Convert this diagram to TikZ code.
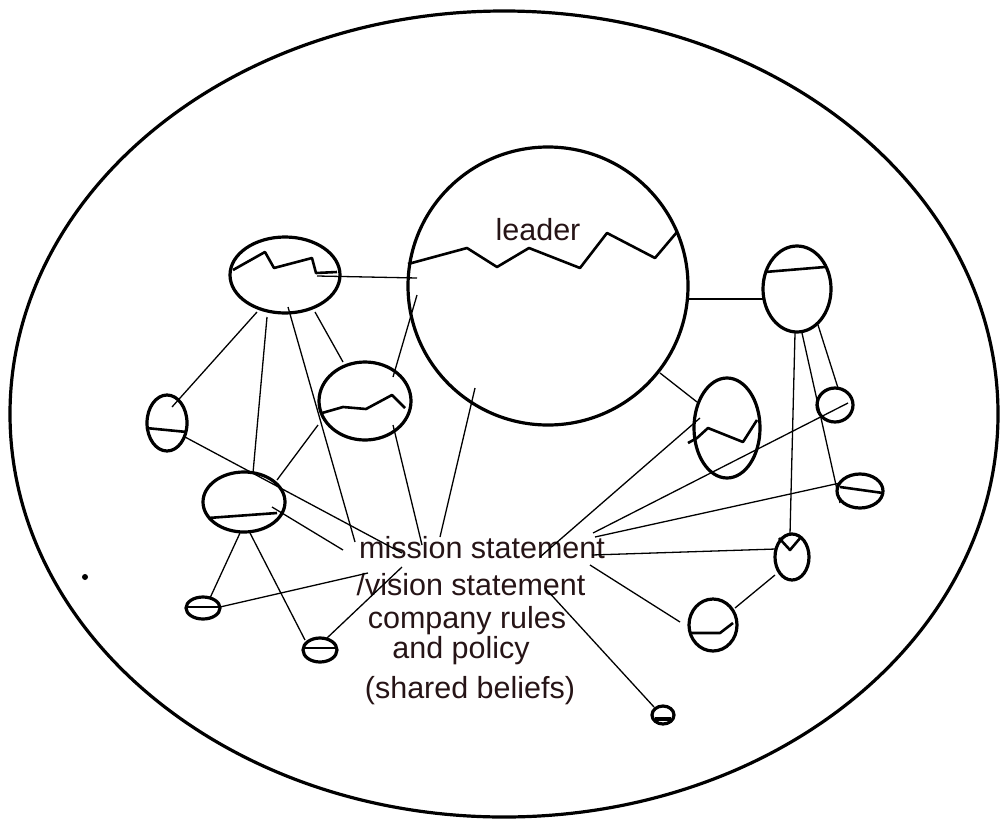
\documentclass[tikz,border=0pt]{standalone}
\usepackage{fontspec}
\setmainfont{Liberation Sans}
\usetikzlibrary{shapes.geometric,calc}
\definecolor{txt}{RGB}{38,20,22}
\begin{document}
\begin{tikzpicture}[x=1pt,y=-1pt,
  ell/.style={draw, ellipse, line width=3.2pt, inner sep=0pt, outer sep=0pt},
  conn/.style={line width=1.3pt},
  zig/.style={line width=2.6pt, line join=round},
  lbl/.style={text=txt, font=\fontsize{30.5}{35}\selectfont, anchor=base, inner sep=0pt}]
\useasboundingbox (0,0) rectangle (1000,819);

% outer boundary
\node[ell, minimum width=988pt, minimum height=806pt] (outer) at (504,414) {};

% nodes
\node[ell, minimum width=280pt, minimum height=278pt] (L0) at (548,286) {};
\node[ell, minimum width=110pt, minimum height=76pt] (A) at (285,275) {};
\node[ell, minimum width=92pt, minimum height=78pt] (B) at (365,401) {};
\node[ell, minimum width=40pt, minimum height=56pt] (C) at (167,423) {};
\node[ell, minimum width=82pt, minimum height=60pt] (D) at (244,502) {};
\node[ell, minimum width=34pt, minimum height=22pt] (E) at (203,608) {};
\node[ell, minimum width=34pt, minimum height=24pt] (F) at (320,650) {};
\node[ell, minimum width=68pt, minimum height=86pt] (G) at (797,289) {};
\node[ell, minimum width=66pt, minimum height=100pt] (H) at (727,428) {};
\node[ell, minimum width=36pt, minimum height=34pt] (I) at (835,405) {};
\node[ell, minimum width=46pt, minimum height=34pt] (J) at (860,491) {};
\node[ell, minimum width=34pt, minimum height=46pt] (K) at (792,557) {};
\node[ell, minimum width=48pt, minimum height=52pt] (L) at (713,625) {};
\node[ell, minimum width=22pt, minimum height=18pt] (M) at (663,715) {};

% texts
\node[lbl] (lead) at (538,240) {leader};
\node[lbl] (m1) at (482,558) {mission statement};
\node[lbl] (m2) at (471,595) {/vision statement};
\node[lbl] (m3) at (467,628) {company rules};
\node[lbl] (m4) at (461,658) {and policy};
\node[lbl] (m5) at (470,698) {(shared beliefs)};

% text-side ends of connectors
\coordinate (tA) at (355,542);
\coordinate (tL0) at (440,537);
\coordinate (tB) at (422,545);
\coordinate (tC) at (402,553);
\coordinate (tD) at (343,550);
\coordinate (tE) at (368,573);
\coordinate (tF) at (402,567);
\coordinate (tH) at (540,557);
\coordinate (tI) at (593,533);
\coordinate (tJ) at (595,537);
\coordinate (tK) at (592,555);
\coordinate (tL) at (590,565);
\coordinate (tM) at (545,588);

% inner marks
\begin{scope}[shift={(L0)}]
\draw[zig] (-140,-22) -- (-81,-38) -- (-51,-19) -- (-19,-38) -- (32,-18) -- (59,-53) -- (107,-28) -- (129,-54);
\end{scope}
\begin{scope}[shift={(A)}]
\draw[zig] (-52,-5) -- (-20,-23) -- (-11,-7) -- (27,-17) -- (31,-2) -- (52,-3);
\end{scope}
\begin{scope}[shift={(B)}]
\draw[zig] (-43,12) -- (-22,6) -- (1,8) -- (27,-6) -- (40,7);
\end{scope}
\begin{scope}[shift={(C)}]
\draw[zig] (-21,5) -- (20,9);
\end{scope}
\begin{scope}[shift={(D)}]
\draw[zig] (-36,16) -- (33,11);
\end{scope}
\begin{scope}[shift={(E)}]
\draw[zig] (-15,-1) -- (15,-1);
\end{scope}
\begin{scope}[shift={(F)}]
\draw[zig] (-15,-2) -- (15,-2);
\end{scope}
\begin{scope}[shift={(G)}]
\draw[zig] (-32,-17) -- (28,-22);
\end{scope}
\begin{scope}[shift={(H)}]
\draw[zig] (-39,15) -- (-30,10) -- (-19,0) -- (16,14) -- (30,-8);
\end{scope}
\begin{scope}[shift={(J)}]
\draw[zig] (-20,-4) -- (23,2);
\end{scope}
\begin{scope}[shift={(K)}]
\draw[zig] (-13,-19) -- (-2,-7) -- (9,-20);
\end{scope}
\begin{scope}[shift={(L)}]
\draw[zig] (-23,8) -- (7,8) -- (20,-2);
\end{scope}
\begin{scope}[shift={(M)}]
\draw[zig, line width=3.2pt] (-8,4) -- (8,4);
\end{scope}

% connectors
\draw[conn] ($(A)+(32,1)$) -- ($(L0)+(-131,-8)$);
\draw[conn] ($(A)+(-28,37)$) -- ($(C)+(5,-16)$);
\draw[conn] ($(A)+(-18,42)$) -- ($(D)+(9,-29)$);
\draw[conn] ($(A)+(3,32)$) -- (tA);
\draw[conn] ($(A)+(30,37)$) -- ($(B)+(-22,-39)$);
\draw[conn] ($(L0)+(-131,9)$) -- ($(B)+(28,-24)$);
\draw[conn] ($(L0)+(-73,102)$) -- (tL0);
\draw[conn] ($(L0)+(140,13)$) -- ($(G)+(-34,10)$);
\draw[conn] ($(L0)+(112,87)$) -- ($(H)+(-30,-26)$);
\draw[conn] ($(B)+(-47,24)$) -- ($(D)+(33,-22)$);
\draw[conn] ($(B)+(28,24)$) -- (tB);
\draw[conn] ($(C)+(18,14)$) -- (tC);
\draw[conn] ($(D)+(28,5)$) -- (tD);
\draw[conn] ($(D)+(-4,31)$) -- ($(E)+(7,-10)$);
\draw[conn] ($(D)+(6,31)$) -- ($(F)+(-15,-10)$);
\draw[conn] ($(E)+(17,-1)$) -- (tE);
\draw[conn] ($(F)+(7,-12)$) -- (tF);
\draw[conn] ($(G)+(21,36)$) -- ($(I)+(3,-17)$);
\draw[conn] ($(G)+(5,44)$) -- ($(J)+(-20,12)$);
\draw[conn] ($(G)+(-2,44)$) -- ($(K)+(-2,-23)$);
\draw[conn] ($(K)+(-17,18)$) -- ($(L)+(22,-17)$);
\draw[conn] ($(H)+(-27,-10)$) -- (tH);
\draw[conn] ($(I)+(13,-2)$) -- (tI);
\draw[conn] ($(J)+(-20,-8)$) -- (tJ);
\draw[conn] ($(K)+(-16,-8)$) -- (tK);
\draw[conn] ($(L)+(-33,-3)$) -- (tL);
\draw[conn] ($(M)+(-9,-8)$) -- (tM);

% stray dot
\fill (85,577) circle (3pt);
\end{tikzpicture}
\end{document}
